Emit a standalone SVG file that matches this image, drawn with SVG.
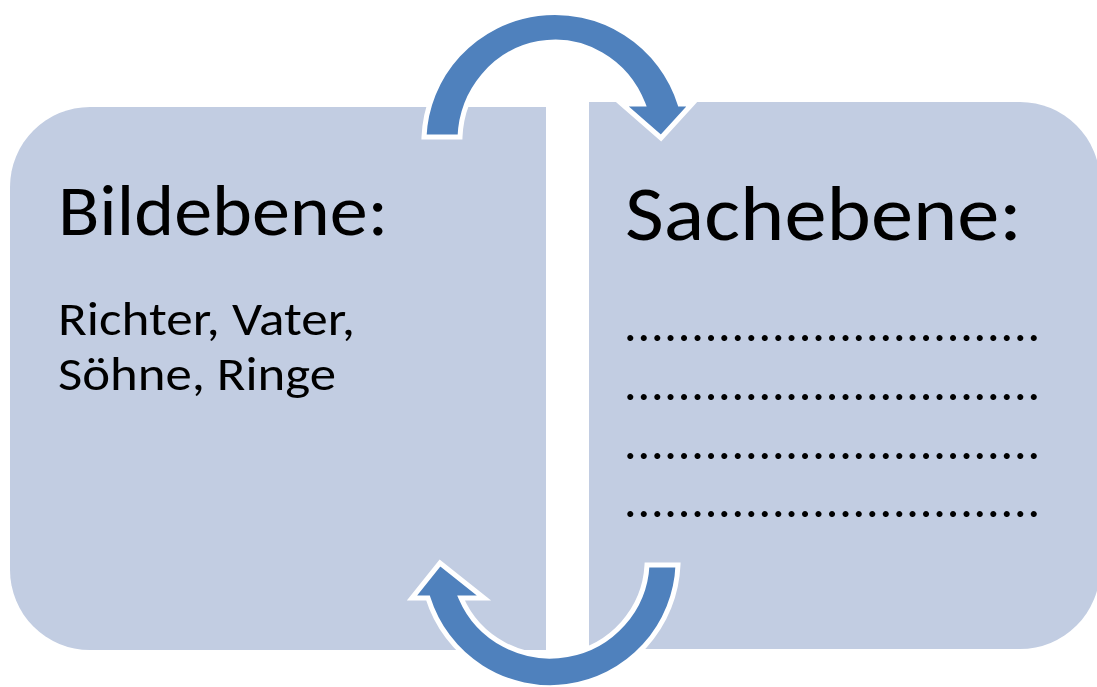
<svg xmlns="http://www.w3.org/2000/svg" width="1097" height="687" viewBox="0 0 1097 687">
  <style>
    .box { fill: #C2CDE2; }
    .arrow { fill: #4F81BD; stroke: #FFFFFF; stroke-width: 5; stroke-linejoin: miter; }
    .txt { font-family: Carlito, Lato, "Open Sans", sans-serif; fill: #000000; }
    .dots { font-family: Carlito, Lato, "Open Sans", sans-serif; font-size: 50px; fill: #000000; }
  </style>
  <rect width="1097" height="687" fill="#FFFFFF"/>
  <g id="bildebene">
    <path class="box" d="M90,107 H546 V650 H90 A80,80 0 0 1 10,570 V187 A80,80 0 0 1 90,107 Z"/>
    <text class="txt" x="58" y="235" font-size="72" textLength="330" lengthAdjust="spacingAndGlyphs">Bildebene:</text>
    <text class="txt" x="58" y="335" font-size="47" textLength="297" lengthAdjust="spacingAndGlyphs">Richter, Vater,</text>
    <text class="txt" x="58" y="390" font-size="47" textLength="278" lengthAdjust="spacingAndGlyphs">Söhne, Ringe</text>
  </g>
  <g id="sachebene">
    <path class="box" d="M589,102 H1020 A80,80 0 0 1 1100,182 V569 A80,80 0 0 1 1020,649 H589 Z"/>
    <text class="txt" x="625" y="240" font-size="78" textLength="397" lengthAdjust="spacingAndGlyphs">Sachebene:</text>
    <text class="dots" x="624" y="341" textLength="416" lengthAdjust="spacing">...............................</text>
    <text class="dots" x="624" y="400" textLength="416" lengthAdjust="spacing">...............................</text>
    <text class="dots" x="624" y="459" textLength="416" lengthAdjust="spacing">...............................</text>
    <text class="dots" x="624" y="517" textLength="416" lengthAdjust="spacing">...............................</text>
  </g>
  <g id="connectors">
    <path class="arrow" d="M424,137 A131,130 0 0 1 680,104 L692,104 L661,138 L622,104 L643,104 A95,99 0 0 0 460,137 Z"/>
    <path class="arrow" d="M678,565 A128,128 0 0 1 428,598 L412,598 L440,563 L484,598 L461,598 A97,96 0 0 0 647,565 Z"/>
  </g>
</svg>
